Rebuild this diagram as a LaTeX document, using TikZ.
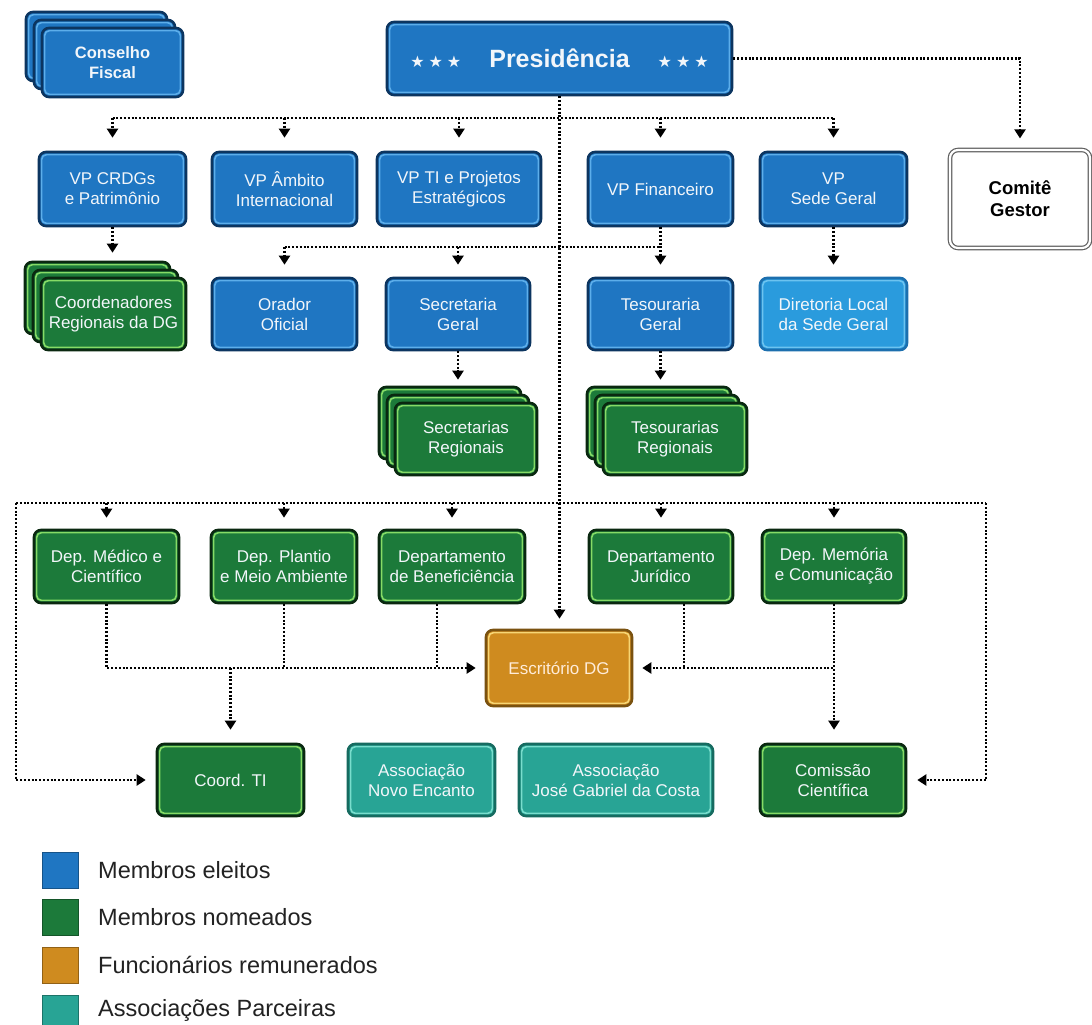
\documentclass[tikz,border=0pt]{standalone}
\usepackage{fontspec}
\setmainfont{Liberation Sans}
\newfontfamily\symfont{DejaVu Sans}
\usetikzlibrary{arrows.meta}

\definecolor{bfill}{HTML}{1F76C2}
\definecolor{bdark}{HTML}{0C3560}
\definecolor{bring}{HTML}{5DAEEA}
\definecolor{lbfill}{HTML}{2A9BDD}
\definecolor{lbdark}{HTML}{1C6FAE}
\definecolor{lbring}{HTML}{6CC3F0}
\definecolor{gfill}{HTML}{1C7A3A}
\definecolor{gdark}{HTML}{0A2810}
\definecolor{gring}{HTML}{86DB66}
\definecolor{ofill}{HTML}{CF8B1F}
\definecolor{odark}{HTML}{7A5210}
\definecolor{oring}{HTML}{F7D675}
\definecolor{tfill}{HTML}{28A495}
\definecolor{tdark}{HTML}{166B60}
\definecolor{tring}{HTML}{79DDCD}
\definecolor{txtlight}{HTML}{F2F6FA}
\definecolor{legtext}{HTML}{222222}

\tikzset{
  org/.style n args={3}{draw=#1, fill=#2, line width=2.6pt, rounded corners=7pt,
    text=txtlight, align=center, font=\fontsize{17}{20}\selectfont, inner sep=0pt,
    path picture={\draw[#3, line width=1.6pt, rounded corners=5pt]
      ([shift={(2.6pt,2.6pt)}]path picture bounding box.south west) rectangle
      ([shift={(-2.6pt,-2.6pt)}]path picture bounding box.north east);}},
  blue/.style={org={bdark}{bfill}{bring}},
  lblue/.style={org={lbdark}{lbfill}{lbring}},
  green/.style={org={gdark}{gfill}{gring}},
  orange/.style={org={odark}{ofill}{oring}, text=orange!15!white},
  teal/.style={org={tdark}{tfill}{tring}},
  sz/.style 2 args={minimum width=#1pt, minimum height=#2pt},
  plainbox/.style={draw=gray!75!black, line width=1.2pt, double=white, double distance=2.2pt,
    fill=white, rounded corners=8pt, align=center, text=black,
    font=\bfseries\fontsize{18.5}{22}\selectfont},
  dotline/.style={line width=2.1pt, dash pattern=on 2pt off 1.8pt},
  conn/.style={dotline, -{Triangle[width=11pt,length=9pt]}, shorten >=11pt},
  legsq/.style={minimum size=36pt, inner sep=0pt, line width=0.8pt},
  legtxt/.style={anchor=west, text=legtext, font=\fontsize{23.5}{27}\selectfont, inner sep=0pt}
}
\newcommand\starrow{{\symfont\fontsize{16}{16}\selectfont ★\hspace{4pt}★\hspace{4pt}★}}

\begin{document}
\begin{tikzpicture}[x=1pt, y=-1pt]
\useasboundingbox[fill=white] (0,0) rectangle (1092,1025);

% top
\node[blue, sz={141}{69}] (cfb) at (96.5,46.5) {};
\node[blue, sz={141}{69}] (cfm) at (104.5,54.5) {};
\node[blue, sz={141}{69}, font=\bfseries\fontsize{16.5}{19.5}\selectfont] (cf) at (112.5,62.5) {Conselho\\Fiscal};

\node[blue, sz={345}{73}] (pres) at (559.5,58.5)
  {\starrow\hspace{28pt}{\bfseries\fontsize{25}{28}\selectfont Presidência}\hspace{28pt}\starrow};

\node[plainbox, sz={140}{98}] (comite) at (1020,199) {Comitê\\Gestor};

% VP row
\node[blue, sz={147}{74}] (vpcrdg) at (112.5,189) {VP CRDGs\\e Patrimônio};
\node[blue, sz={145}{74}] (vpamb) at (284.5,189) {VP Âmbito\\Internacional};
\node[blue, sz={164}{74}] (vpti) at (459,189) {VP TI e Projetos\\Estratégicos};
\node[blue, sz={145}{74}] (vpfin) at (660.5,189) {VP Financeiro};
\node[blue, sz={147}{74}] (vpsede) at (833.5,189) {VP\\Sede Geral};

% second row
\node[green, sz={145}{72}] (coordb) at (97.5,298) {};
\node[green, sz={145}{72}] (coordm) at (105.5,306) {};
\node[green, sz={145}{72}] (coord) at (113.5,314) {Coordenadores\\Regionais da DG};
\node[blue, sz={145}{72}] (orador) at (284.5,314) {Orador\\Oficial};
\node[blue, sz={144}{72}] (secg) at (458,314) {Secretaria\\Geral};
\node[blue, sz={145}{72}] (tesg) at (660.5,314) {Tesouraria\\Geral};
\node[lblue, sz={147}{72}] (dirloc) at (833.5,314) {Diretoria Local\\da Sede Geral};

% regional stacks
\node[green, sz={142}{72}] (secrb) at (450,423) {};
\node[green, sz={142}{72}] (secrm) at (458,431) {};
\node[green, sz={142}{72}] (secr) at (466,439) {Secretarias\\Regionais};
\node[green, sz={144}{72}] (tesrb) at (659,423) {};
\node[green, sz={144}{72}] (tesrm) at (667,431) {};
\node[green, sz={144}{72}] (tesr) at (675,439) {Tesourarias\\Regionais};

% departments
\node[green, sz={145}{73}] (depmed) at (106.5,566.5) {Dep. Médico e\\Científico};
\node[green, sz={146}{73}] (depplan) at (284,566.5) {Dep. Plantio\\e Meio Ambiente};
\node[green, sz={146}{73}] (depben) at (452,566.5) {Departamento\\de Beneficiência};
\node[green, sz={144}{73}] (depjur) at (661,566.5) {Departamento\\Jurídico};
\node[green, sz={144}{73}] (depmem) at (834,566.5) {Dep. Memória\\e Comunicação};

\node[orange, sz={146}{76}] (esc) at (559,668) {Escritório DG};

% bottom row
\node[green, sz={147}{72}] (coordti) at (230.5,780) {Coord. TI};
\node[teal, sz={147}{72}] (novo) at (421.5,780) {Associação\\Novo Encanto};
\node[teal, sz={194}{72}] (jose) at (616,780) {Associação\\José Gabriel da Costa};
\node[green, sz={146}{72}] (comissao) at (833,780) {Comissão\\Científica};

% connectors: top
\coordinate (bus1) at (0,118);
\coordinate (br) at (0,247);
\coordinate (b2l) at (16,503);
\coordinate (b2r) at (986,503);

\draw[conn, shorten >=10pt] (pres.south) -- (pres.south |- esc.north);
\draw[dotline] (bus1 -| vpcrdg.north) -- (bus1 -| vpsede.north);
\foreach \n in {vpcrdg,vpamb,vpti,vpfin,vpsede}
  \draw[conn, shorten >=13pt] (bus1 -| \n.north) -- (\n.north);
\draw[conn, shorten >=11pt] (pres.east) -| (comite.north);

\draw[conn, shorten >=8pt] (vpcrdg.south) -- (vpcrdg.south |- coordb.north);
\draw[dotline] (br -| orador.north) -- (br -| vpfin.south);
\draw[conn, shorten >=12pt] (br -| orador.north) -- (orador.north);
\draw[conn, shorten >=12pt] (br -| secg.north) -- (secg.north);
\draw[conn, shorten >=12pt] (vpfin.south) -- (tesg.north);
\draw[conn, shorten >=12pt] (vpsede.south) -- (dirloc.north);
\draw[conn, shorten >=6pt] (secg.south) -- (secg.south |- secrb.north);
\draw[conn, shorten >=6pt] (tesg.south) -- (tesg.south |- tesrb.north);

% connectors: departments
\draw[dotline] (b2l) -- (b2r);
\foreach \n in {depmed,depplan,depben,depjur,depmem}
  \draw[conn, shorten >=11pt] (b2l -| \n.north) -- (\n.north);
\draw[conn, shorten >=10pt] (b2l) |- (coordti.west);
\draw[conn, shorten >=10pt] (b2r) |- (comissao.east);

\draw[conn, shorten >=9pt] (depmed.south) |- (esc.west);
\draw[dotline] (depplan.south) -- (depplan.south |- esc.west);
\draw[dotline] ([xshift=-15pt]depben.south) -- ([xshift=-15pt]depben.south |- esc.west);
\draw[conn, shorten >=13pt] (coordti.north |- esc.west) -- (coordti.north);

\draw[conn, shorten >=9pt] (depmem.south) |- (esc.east);
\draw[dotline] ([xshift=23pt]depjur.south) -- ([xshift=23pt]depjur.south |- esc.east);
\draw[conn, shorten >=13pt] (depmem.south) -- (depmem.south |- comissao.north);

% legend
\node[legsq, fill=bfill, draw=bfill!70!black] (l1) at (60,870) {};
\node[legsq, fill=gfill, draw=gfill!70!black] (l2) at (60,917) {};
\node[legsq, fill=ofill, draw=ofill!70!black] (l3) at (60,965) {};
\node[legsq, fill=tfill, draw=tfill!70!black] (l4) at (60,1013) {};
\node[legtxt] (t1) at (98,870) {Membros eleitos};
\node[legtxt] (t2) at (98,917) {Membros nomeados};
\node[legtxt] (t3) at (98,965) {Funcionários remunerados};
\node[legtxt] (t4) at (98,1010) {Associações Parceiras};
\end{tikzpicture}
\end{document}
